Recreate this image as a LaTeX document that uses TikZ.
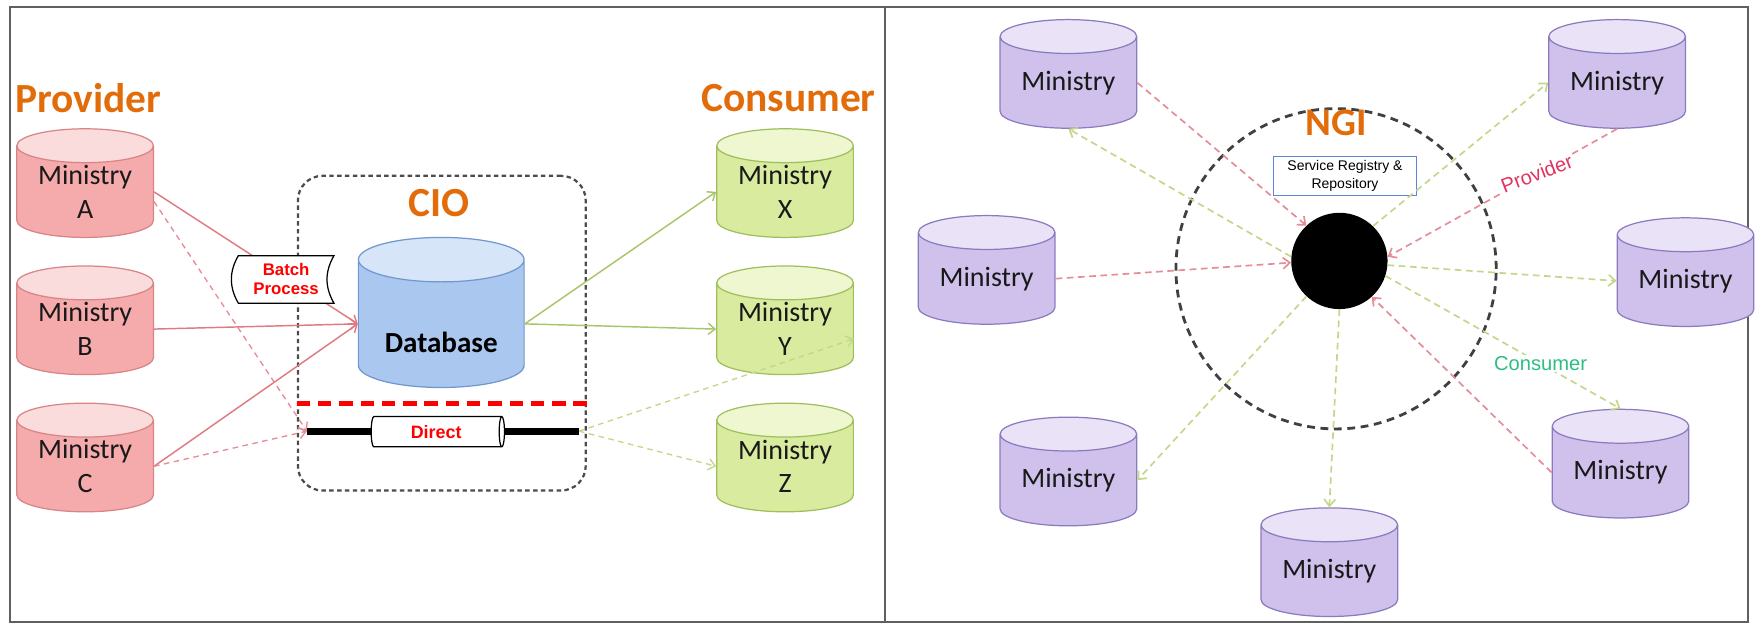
\documentclass[tikz,border=0pt]{standalone}
\usepackage{fontspec}
\setmainfont{Carlito}
\newfontfamily\arialfont{Liberation Sans}
\usetikzlibrary{shapes.geometric, arrows.meta, positioning, calc}

\definecolor{frameline}{HTML}{606060}
\definecolor{headorange}{HTML}{E36C0A}
\definecolor{provbody}{HTML}{F5AAAC}
\definecolor{provtop}{HTML}{FADCDC}
\definecolor{provedge}{HTML}{D98487}
\definecolor{consbody}{HTML}{D8EB9E}
\definecolor{constop}{HTML}{EEF7D0}
\definecolor{consedge}{HTML}{9FBF5E}
\definecolor{dbbody}{HTML}{A9C7EF}
\definecolor{dbtop}{HTML}{D6E5F8}
\definecolor{dbedge}{HTML}{7297CF}
\definecolor{ngibody}{HTML}{CFC1EC}
\definecolor{ngitop}{HTML}{EAE3F7}
\definecolor{ngiedge}{HTML}{8A7BBE}
\definecolor{provarrow}{HTML}{E07A82}
\definecolor{provdasharrow}{HTML}{E58C98}
\definecolor{consarrow}{HTML}{A8C56A}
\definecolor{consdasharrow}{HTML}{C3D78A}
\definecolor{regblue}{HTML}{5B86D6}
\definecolor{provtext}{HTML}{E0345E}
\definecolor{constext}{HTML}{2DBE83}

\pgfdeclarelayer{fg}
\pgfsetlayers{main,fg}

\begin{document}
\begin{tikzpicture}[x=1pt, y=-1pt, >={Straight Barb[length=6pt,width=10pt]},
    store/.style={cylinder, shape border rotate=90, aspect=0.36, draw, line width=1.1pt,
        minimum width=122pt, minimum height=97pt, inner sep=0pt, anchor=shape center,
        align=center, text=black!90, font=\fontsize{25}{30}\selectfont,
        cylinder uses custom fill},
    provstore/.style={store, draw=provedge, cylinder body fill=provbody, cylinder end fill=provtop},
    consstore/.style={store, draw=consedge, cylinder body fill=consbody, cylinder end fill=constop},
    ngistore/.style={store, draw=ngiedge, cylinder body fill=ngibody, cylinder end fill=ngitop},
    heading/.style={font=\fontsize{37}{40}\selectfont\bfseries, text=headorange},
    redtag/.style={font=\arialfont\fontsize{15}{17}\selectfont\bfseries, text=red, align=center},
    provsolid/.style={->, draw=provarrow, line width=1.3pt},
    provdash/.style={->, draw=provdasharrow, line width=1.2pt, dash pattern=on 5pt off 4pt},
    conssolid/.style={->, draw=consarrow, line width=1.3pt},
    consdash/.style={->, draw=consdasharrow, line width=1.2pt, dash pattern=on 5pt off 4pt},
    provlink/.style={->, draw=provdasharrow, line width=1.5pt, dash pattern=on 6pt off 4pt},
    conslink/.style={->, draw=consdasharrow, line width=1.5pt, dash pattern=on 6pt off 4pt}]

\useasboundingbox (0,0) rectangle (1568,557);

% frame of the two panels
\draw[frameline, line width=1.8pt] (9,6) rectangle (1561,555);
\draw[frameline, line width=1.8pt] (790,6) -- (790,555);

%%% left panel: point to point through the CIO
\node[heading] (provider) at (79,88) {Provider};
\node[heading] (consumer) at (704,88) {Consumer};

\node[draw=black!70, line width=2pt, dash pattern=on 4pt off 3pt, rounded corners=22pt,
    minimum width=257pt, minimum height=281pt] (cio) at (394.5,297.5) {};
\node[heading] (ciolabel) at (392,181) {CIO};

\node[provstore] (minA) at (76,163.5) {Ministry\\A};
\node[provstore] (minB) at (76,286) {Ministry\\B};
\node[provstore] (minC) at (76,408.5) {Ministry\\C};
\node[consstore] (minX) at (701,163.5) {Ministry\\X};
\node[consstore] (minY) at (701,286) {Ministry\\Y};
\node[consstore] (minZ) at (701,408.5) {Ministry\\Z};

\node[store, draw=dbedge, cylinder body fill=dbbody, cylinder end fill=dbtop, aspect=0.42,
    minimum width=148pt, minimum height=134pt] (db) at (394,279) {\phantom{Database}};
\node[font=\fontsize{26}{30}\selectfont\bfseries] (dblabel) at (394,306) {Database};

\coordinate (pipeL) at (274,385);
\coordinate (pipeR) at (517,385);

\draw[provsolid] (minA.east) -- (db.west);
\draw[provsolid] (minB.east) -- (db.west);
\draw[provsolid] (minC.east) -- (db.west);
\draw[provdash] (minA.-8) -- (pipeL);
\draw[provdash] (minC.east) -- (pipeL);
\draw[conssolid] (db.east) -- (minX.west);
\draw[conssolid] (db.east) -- (minY.west);
\draw[consdash] (pipeR) -- (minY.-8);
\draw[consdash] (pipeR) -- (minZ.west);

% batch job box with wavy sides
\begin{pgfonlayer}{fg}
\node[redtag, minimum width=85pt, minimum height=42pt, inner sep=0pt] (batch) at (255.5,249.5) {Batch\\Process};
\end{pgfonlayer}
\draw[fill=white, line width=1.1pt] (batch.north west) to[bend right=30] (batch.south west)
    -- (batch.south east) to[bend left=30] (batch.north east) -- cycle;

% direct channel
\draw[red, line width=4.5pt, dash pattern=on 12pt off 7pt] (265,360) -- (525,360);
\draw[line width=6pt] (pipeL) -- (pipeR);
\node[cylinder, aspect=0.4, draw, fill=white, line width=1.1pt, inner sep=0pt,
    minimum width=27pt, minimum height=119pt, redtag, font=\arialfont\fontsize{16}{18}\selectfont\bfseries]
    (direct) at (389.5,385.5) {Direct};

%%% right panel: hub through the NGI
\node[circle, draw=black!75, line width=2.5pt, dash pattern=on 7pt off 5pt,
    minimum size=286pt] (ring) at (1193,240) {};
\node[heading, font=\fontsize{35}{38}\selectfont\bfseries] (ngilabel) at (1193,110) {NGI};
\node[draw=regblue, line width=1.2pt, fill=white, minimum width=128pt, minimum height=35pt,
    inner sep=1pt, align=center, font=\arialfont\fontsize{12.5}{15.5}\selectfont]
    (registry) at (1201,157) {Service Registry \&\\Repository};
\node[circle, fill=black, minimum size=86pt] (hub) at (1196,233) {};

\node[ngistore] (mTL) at (954,66) {Ministry};
\node[ngistore] (mL) at (881,241) {Ministry};
\node[ngistore] (mBL) at (954,421) {Ministry};
\node[ngistore] (mTR) at (1444,66) {Ministry};
\node[ngistore] (mR) at (1505,243) {Ministry};
\node[ngistore] (mBR) at (1447,414) {Ministry};
\node[ngistore] (mBot) at (1187,502) {Ministry};

\draw[provlink] (mTL.east) -- (hub.133);
\draw[conslink] (hub.175) -- (mTL.south);
\draw[provlink] (mL.east) -- (hub.182);
\draw[conslink] (hub.46) -- (mTR.west);
\draw[provlink] (mTR.south) -- node[pos=0.35, fill=white, inner sep=1pt, rotate=21,
    text=provtext, font=\arialfont\fontsize{18}{20}\selectfont] (provtag) {Provider} (hub.5);
\draw[conslink] (hub.-5) -- (mR.west);
\draw[conslink] (hub.-18) -- node[pos=0.66, fill=white, inner sep=1pt,
    text=constext, font=\arialfont\fontsize{18}{20}\selectfont] (constag) {Consumer} (mBR.north);
\draw[provlink] (mBR.west) -- (hub.-48);
\draw[conslink] (hub.-90) -- (mBot.north);
\draw[conslink] (hub.227) -- (mBL.east);
\end{tikzpicture}
\end{document}
